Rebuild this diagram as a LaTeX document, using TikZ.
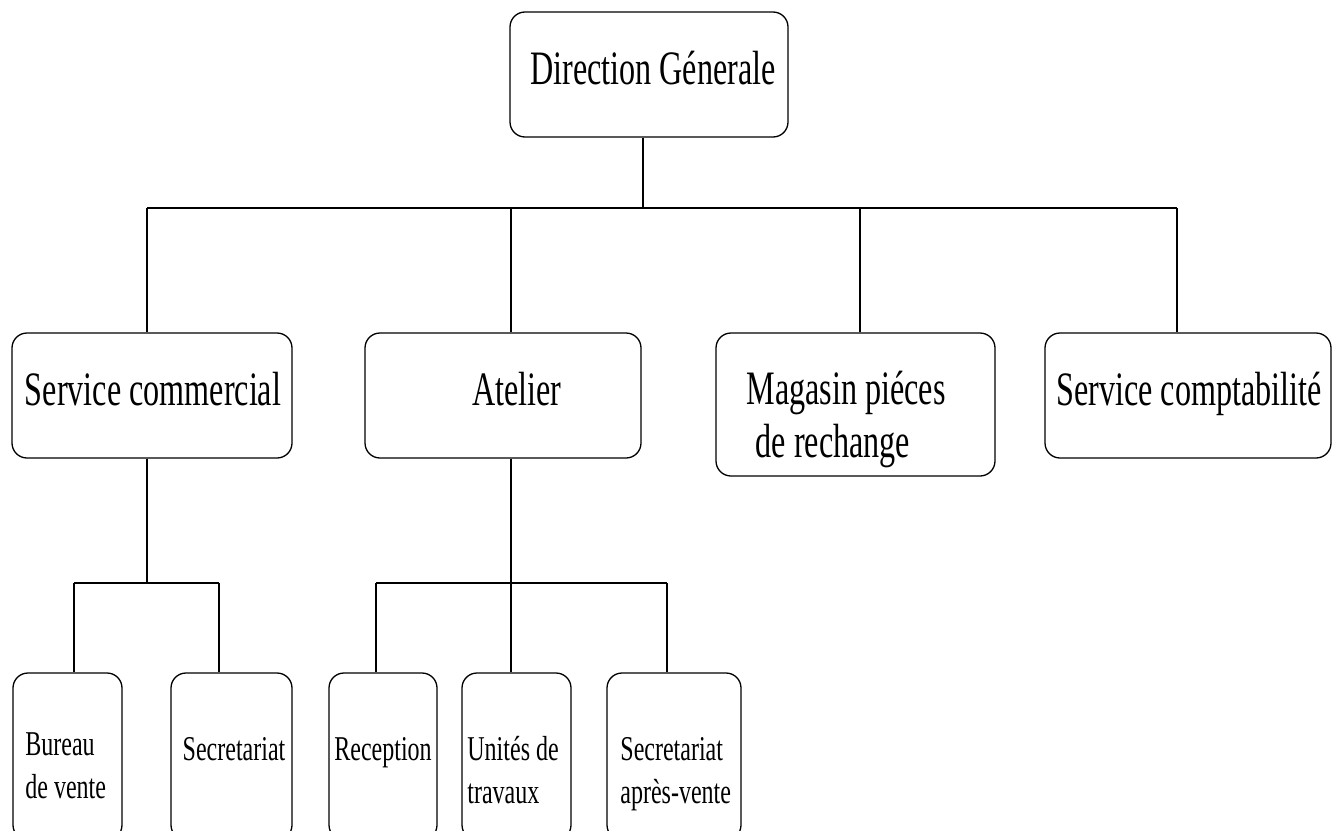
\documentclass[tikz,border=0pt]{standalone}
\usepackage{fontspec}
\setmainfont{Liberation Serif}[FakeStretch=0.69]
\newfontfamily\bigfont{Liberation Serif}[FakeStretch=0.67]
\begin{document}
\begin{tikzpicture}[x=0.5pt,y=-0.5pt,
  box/.style={draw, rounded corners=7.5pt, line width=0.65pt, inner sep=0pt},
  conn/.style={line width=1pt},
  big/.style={anchor=base, inner sep=0pt, font=\bigfont\fontsize{24pt}{28pt}\selectfont},
  small/.style={anchor=base, inner sep=0pt, font=\fontsize{17.4pt}{21.5pt}\selectfont},
  smallw/.style={anchor=base west, inner sep=0pt, font=\fontsize{17.4pt}{21.5pt}\selectfont}]
\clip (0,0) rectangle (1343,830);
% level 1
\node[box, minimum width=139pt, minimum height=62.5pt] (DG) at (649,74.5) {};
\node[big] (tDG) at (653,84) {Direction Génerale};
% level 2
\node[box, minimum width=140pt, minimum height=62.5pt] (SC) at (152,395.5) {};
\node[box, minimum width=138pt, minimum height=62.5pt] (AT) at (503,395.5) {};
\node[box, minimum width=139.5pt, minimum height=71.5pt] (MG) at (855.5,404.5) {};
\node[box, minimum width=143pt, minimum height=62.5pt] (CP) at (1188,395.5) {};
\node[big] (tSC) at (153,405) {Service commercial};
\node[big] (tAT) at (517,405) {Atelier};
\node[big] (tMG1) at (846,404) {Magasin piéces};
\node[big] (tMG2) at (833,457) {de rechange};
\node[big] (tCP) at (1189,405) {Service comptabilité};
% level 3
\node[box, minimum width=54.5pt, minimum height=83.5pt] (BV) at (67.5,756.5) {};
\node[box, minimum width=60.5pt, minimum height=83.5pt] (SE) at (231.5,756.5) {};
\node[box, minimum width=54pt, minimum height=83.5pt] (RE) at (383,756.5) {};
\node[box, minimum width=54.5pt, minimum height=83.5pt] (UT) at (516.5,756.5) {};
\node[box, minimum width=67pt, minimum height=83.5pt] (SA) at (674,756.5) {};
\node[smallw] (tBV1) at (25,755) {Bureau};
\node[smallw] (tBV2) at (25,798) {de vente};
\node[small] (tSE) at (234,760) {Secretariat};
\node[small] (tRE) at (383,760) {Reception};
\node[smallw] (tUT1) at (467,760) {Unités de};
\node[smallw] (tUT2) at (467,803) {travaux};
\node[smallw] (tSA1) at (620,760) {Secretariat};
\node[smallw] (tSA2) at (620,803) {après-vente};
% connectors level 1-2
\coordinate (j0) at (643,208);
\coordinate (b1) at (147,208);
\coordinate (b2) at (511,208);
\coordinate (b3) at (860,208);
\coordinate (b4) at (1177,208);
\draw[conn] (DG.south -| j0) -- (j0);
\draw[conn] (b1) -- (b4);
\draw[conn] (b1) -- (b1 |- SC.north);
\draw[conn] (b2) -- (b2 |- AT.north);
\draw[conn] (b3) -- (b3 |- MG.north);
\draw[conn] (b4) -- (b4 |- CP.north);
% connectors level 2-3
\coordinate (c0) at (147,583);
\coordinate (c1) at (74,583);
\coordinate (c2) at (219,583);
\draw[conn] (SC.south -| c0) -- (c0);
\draw[conn] (c1) -- (c2);
\draw[conn] (c1) -- (c1 |- BV.north);
\draw[conn] (c2) -- (c2 |- SE.north);
\coordinate (a0) at (511,583);
\coordinate (a1) at (376,583);
\coordinate (a2) at (667,583);
\draw[conn] (AT.south -| a0) -- (a0 |- UT.north);
\draw[conn] (a1) -- (a2);
\draw[conn] (a1) -- (a1 |- RE.north);
\draw[conn] (a2) -- (a2 |- SA.north);
\end{tikzpicture}
\end{document}
